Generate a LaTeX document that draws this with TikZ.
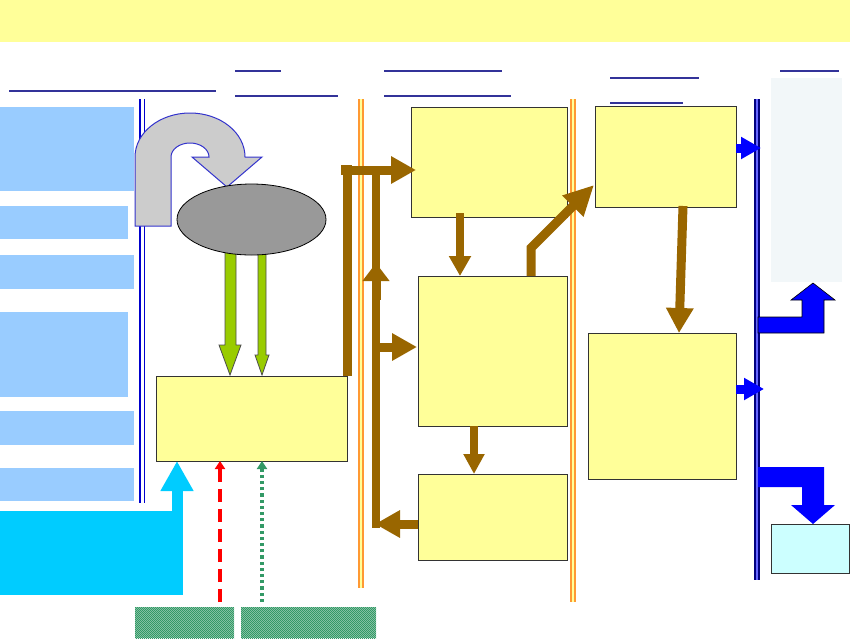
\documentclass[tikz,border=0pt]{standalone}
\usetikzlibrary{arrows.meta,patterns,shapes.geometric}

\definecolor{yel}{HTML}{FFFF99}
\definecolor{lblue}{HTML}{99CCFF}
\definecolor{cyn}{HTML}{00CCFF}
\definecolor{pcyan}{HTML}{CCFFFF}
\definecolor{pale}{HTML}{F2F7F9}
\definecolor{brn}{HTML}{996600}
\definecolor{grn}{HTML}{99CC00}
\definecolor{hgrn}{HTML}{339966}
\definecolor{ugrey}{HTML}{CCCCCC}
\definecolor{egrey}{HTML}{999999}
\definecolor{ublue}{HTML}{3333CC}
\definecolor{uline}{HTML}{333399}
\definecolor{navy}{HTML}{000080}
\definecolor{orng}{HTML}{FF9933}

\pgfdeclarepatternformonly{finechecker}{\pgfpointorigin}{\pgfqpoint{2.4pt}{2.4pt}}{\pgfqpoint{2.4pt}{2.4pt}}{%
  \pgfpathrectangle{\pgfpointorigin}{\pgfqpoint{1.2pt}{1.2pt}}%
  \pgfpathrectangle{\pgfqpoint{1.2pt}{1.2pt}}{\pgfqpoint{1.2pt}{1.2pt}}%
  \pgfusepath{fill}}

\tikzset{
  ybox/.style={draw=black!80, fill=yel, line width=0.8pt, inner sep=0pt, outer sep=0pt},
  lbox/.style={fill=lblue, inner sep=0pt, outer sep=0pt},
  hbox/.style={preaction={fill=hgrn!55}, pattern=finechecker, pattern color=hgrn, inner sep=0pt, outer sep=0pt},
  uline/.style={draw=uline, line width=1.5pt},
  brarrow/.style={draw=brn, line width=9pt, -{Triangle[width=26pt,length=25pt]}},
  bluarrow/.style={draw=blue, line width=9pt, -{Triangle[width=21pt,length=20pt]}},
}

\begin{document}
\begin{tikzpicture}[x=1pt, y=-1pt]
  \useasboundingbox (0,0) rectangle (850,638);

  \node[fill=yel, minimum width=850pt, minimum height=42pt, inner sep=0pt] (title) at (425,21) {};

  % underlines of the column heads
  \draw[uline] (9,91) -- (216,91);
  \draw[uline] (235,71) -- (281,71);
  \draw[uline] (235,96) -- (338,96);
  \draw[uline] (384,71) -- (502,71);
  \draw[uline] (384,96) -- (511,96);
  \draw[uline] (610,78) -- (699,78);
  \draw[uline] (610,103) -- (683,103);
  \draw[uline] (780,71) -- (839,71);

  % left column
  \node[lbox, minimum width=134pt, minimum height=84pt] (lb1) at (67,149) {};
  \node[lbox, minimum width=128pt, minimum height=33pt] (lb2) at (64,222.5) {};
  \node[lbox, minimum width=134pt, minimum height=34pt] (lb3) at (67,272) {};
  \node[lbox, minimum width=128pt, minimum height=85pt] (lb4) at (64,354.5) {};
  \node[lbox, minimum width=134pt, minimum height=34pt] (lb5) at (67,428) {};
  \node[lbox, minimum width=134pt, minimum height=33pt] (lb6) at (67,484.5) {};
  \node[fill=cyn, minimum width=183pt, minimum height=84pt, inner sep=0pt, outer sep=0pt] (cy) at (91.5,553) {};

  % column separators
  \draw[draw=blue!80!black, double=white, line width=1.8pt, double distance=3pt] (142,99) -- (142,503);
  \draw[draw=orng, double=yel, line width=1.6pt, double distance=2.6pt] (361,99) -- (361,588);
  \draw[draw=orng, double=yel, line width=1.6pt, double distance=2.6pt] (573,99) -- (573,602);
  \draw[draw=navy, double=blue!60, line width=2pt, double distance=2.6pt] (757,99) -- (757,580);

  % turning arrow and the grey ellipse
  \draw[draw=ublue, fill=ugrey, line width=1pt] (135,226) -- (135,157)
    arc[start angle=180, end angle=360, x radius=55, y radius=44] -- (262,157) -- (227,187)
    -- (192,157) -- (209,157) arc[start angle=0, end angle=-180, x radius=19, y radius=14]
    -- (171,226) -- cycle;
  \draw[draw=black!70, fill=grn, line width=0.8pt] (225,240) -- (225,345) -- (219,345) -- (230,375)
    -- (241,345) -- (236,345) -- (236,240) -- cycle;
  \draw[draw=black!70, fill=grn, line width=0.8pt] (258,240) -- (258,355) -- (255,355) -- (262,375)
    -- (269,355) -- (266,355) -- (266,240) -- cycle;
  \node[ellipse, draw=black, fill=egrey, line width=0.8pt, minimum width=149pt, minimum height=71pt, inner sep=0pt] (ell) at (251.5,219.5) {};

  % boxes
  \node[ybox, minimum width=191pt, minimum height=85pt] (main) at (251.5,418.5) {};
  \node[ybox, minimum width=156pt, minimum height=110pt] (tm) at (489,162) {};
  \node[ybox, minimum width=149pt, minimum height=150pt] (mid) at (492.5,351) {};
  \node[ybox, minimum width=149pt, minimum height=86pt] (bot) at (492.5,517) {};
  \node[ybox, minimum width=141pt, minimum height=101pt] (rt) at (665.5,156.5) {};
  \node[ybox, minimum width=148pt, minimum height=146pt] (rb) at (662,406) {};
  \node[fill=pale, minimum width=71pt, minimum height=204pt, inner sep=0pt] (pb) at (806.5,180) {};
  \node[draw=black!80, fill=pcyan, line width=0.8pt, minimum width=78pt, minimum height=49pt, inner sep=0pt] (cb) at (810,548.5) {};
  \node[hbox, minimum width=99pt, minimum height=31pt] (h1) at (184.5,622.5) {};
  \node[hbox, minimum width=135pt, minimum height=31pt] (h2) at (308.5,622.5) {};

  % inputs of the main box
  \draw[draw=cyn, line width=11pt, -{Triangle[width=31pt,length=30pt]}] ([xshift=85.5pt]cy.north) -- ([xshift=-74.5pt]main.south);
  \draw[draw=red, line width=3.5pt, dash pattern=on 13pt off 7pt, -{Triangle[width=10pt,length=8pt]}]
    ([xshift=35.5pt,yshift=5pt]h1.north) -- ([xshift=-31.5pt]main.south);
  \draw[draw=hgrn, line width=3.2pt, dash pattern=on 3.2pt off 3pt, -{Triangle[width=10pt,length=8pt]}]
    ([xshift=-46.5pt,yshift=5pt]h2.north) -- ([xshift=10.5pt]main.south);

  % brown flows
  \coordinate (busT) at (376,170);
  \coordinate (busB) at (376,528);
  \draw[brarrow] (main.north east) |- ([xshift=5pt,yshift=-8pt]tm.west);
  \draw[draw=brn, line width=10pt] (341,170) -- (352,170);
  \draw[draw=brn, line width=8pt] (busT) -- (busB);
  \draw[brarrow, -{Triangle[width=26pt,length=18pt]}] (376,300) -- (376,263);
  \draw[brarrow] (376,347) -- ([xshift=-1pt,yshift=4pt]mid.west);
  \draw[brarrow] ([yshift=-7pt]bot.west) -- (375,524);
  \draw[brarrow, line width=8pt, -{Triangle[width=21pt,length=20pt]}] ([xshift=-29pt,yshift=4pt]tm.south) -- ([xshift=-32.5pt]mid.north);
  \draw[brarrow, line width=8pt, -{Triangle[width=20pt,length=20pt]}] ([xshift=-18.5pt]mid.south) -- ([xshift=-18.5pt]bot.north);
  \draw[brarrow, -{Triangle[width=28pt,length=30pt]}] ([xshift=38.5pt]mid.north) -- ++(0,-28) -- ([xshift=-1pt,yshift=-28.5pt]rt.west);
  \draw[brarrow] ([xshift=17.5pt,yshift=1pt]rt.south) -- ([xshift=17pt]rb.north);

  % outputs
  \draw[bluarrow] ([yshift=8.5pt]rt.east) -- (761,148);
  \draw[bluarrow] ([yshift=17pt]rb.east) -- (764,389);
  \draw[draw=black, fill=blue, line width=0.6pt] (758,317) -- (802,317) -- (802,300) -- (791,300) -- (813,283)
    -- (835,300) -- (824,300) -- (824,333) -- (758,333) -- cycle;
  \fill[blue] (758,467) -- (824,467) -- (824,505) -- (835,505) -- (813,524) -- (791,505) -- (802,505)
    -- (802,487) -- (758,487) -- cycle;
\end{tikzpicture}
\end{document}
